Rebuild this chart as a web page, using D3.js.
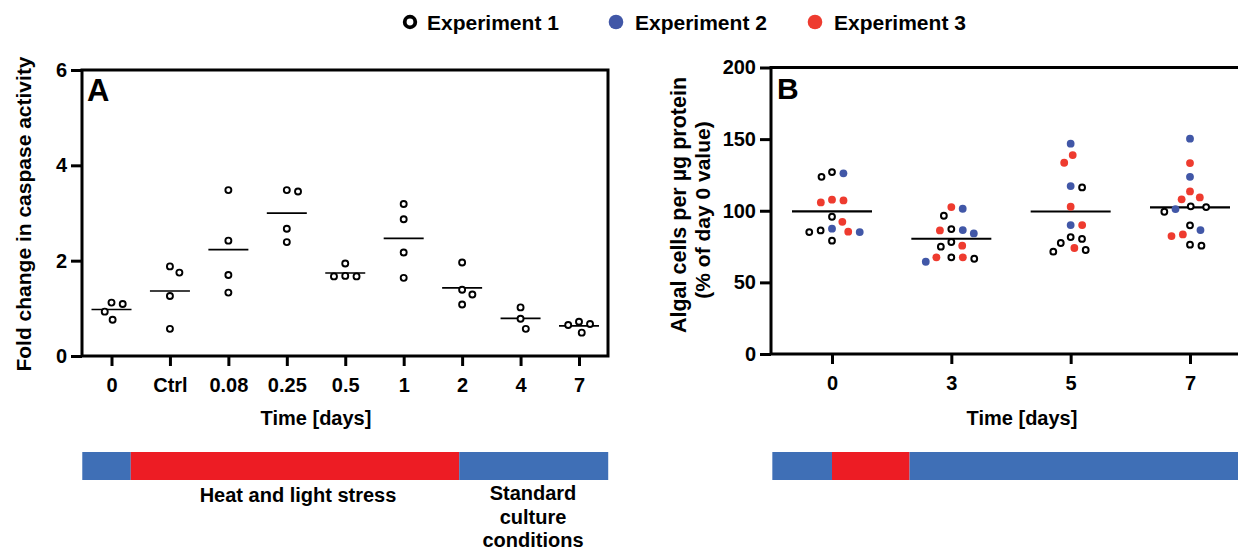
<!DOCTYPE html>
<html lang="en">
<head>
  <meta charset="UTF-8">
  <title>Caspase activity and algal cells</title>
  <style>
    body { margin: 0; background: #fff; }
    svg { display: block; font-family: 'Liberation Sans', Arial, sans-serif; font-weight: bold; }
  </style>
  <script src="https://d3js.org/d3.v7.min.js"></script>
</head>
<body>
<script>
  // Panel A: fold change in caspase activity, one array per time point
  const catsA = ["0", "Ctrl", "0.08", "0.25", "0.5", "1", "2", "4", "7"];
  const valuesA = [
    [1.12, 1.09, 0.93, 0.76],
    [1.75, 1.88, 1.26, 0.57],
    [3.48, 2.42, 1.70, 1.33],
    [3.45, 3.48, 2.67, 2.39],
    [1.94, 1.68, 1.67, 1.67],
    [3.19, 2.87, 2.17, 1.64],
    [1.96, 1.39, 1.29, 1.08],
    [1.02, 0.78, 0.57],
    [0.67, 0.65, 0.72, 0.49]
  ];
  const ticksA = [0, 2, 4, 6];

  // Panel B: algal cells per ug protein (% of day 0), per experiment
  const daysB = ["0", "3", "5", "7"];
  const exp1B = [
    [127.0, 123.7, 95.8, 86.3, 85.1, 79.1],
    [96.5, 87.2, 78.2, 74.9, 67.5, 66.5],
    [116.3, 81.6, 80.3, 77.5, 72.6, 71.4],
    [102.6, 103.1, 99.3, 89.8, 75.6, 76.3]
  ];
  const exp2B = [
    [126.1, 85.1, 87.5],
    [101.4, 86.5, 84.2, 64.4],
    [146.8, 117.2, 90.0],
    [150.3, 123.7, 101.2, 86.5]
  ];
  const exp3B = [
    [107.2, 105.8, 107.7, 92.3, 85.4],
    [102.6, 86.3, 75.6, 67.5, 67.5],
    [138.9, 133.5, 102.8, 90.0, 74.0],
    [133.3, 113.5, 109.3, 108.0, 82.3, 83.5]
  ];
  const ticksB = [0, 50, 100, 150, 200];

  const experiments = ["Experiment 1", "Experiment 2", "Experiment 3"];

  // condition bars under each panel, bounds in category-index units
  const phasesA = [
    { start: -0.5, end: 0.33, kind: "standard" },
    { start: 0.33, end: 5.95, kind: "stress" },
    { start: 5.95, end: 8.5, kind: "standard" }
  ];
  const phasesB = [
    { start: -0.5, end: 0, kind: "standard" },
    { start: 0, end: 0.65, kind: "stress" },
    { start: 0.65, end: 3.5, kind: "standard" }
  ];

  const blue = "#4157a7", red = "#ee3b2f";
  const barColor = { standard: "#3f6fb6", stress: "#ed1c24" };

  const W = 1238, H = 552;
  const svg = d3.select("body").append("svg")
    .attr("width", W)
    .attr("height", H);

  const fs = 20;     // tick labels
  const fsT = 21;    // axis titles

  // simple beeswarm: returns x offsets, keeps points D apart
  function swarm(ys, D) {
    const placed = [];
    const out = new Array(ys.length);
    const order = d3.range(ys.length).sort((a, b) => ys[a] - ys[b]);
    order.forEach(i => {
      const iv = placed
        .filter(p => Math.abs(p.y - ys[i]) < D)
        .map(p => {
          const w = Math.sqrt(D * D - (p.y - ys[i]) ** 2);
          return [p.x - w, p.x + w];
        });
      const cands = [0].concat(iv.flat());
      const ok = cands.filter(c => iv.every(([a, b]) => c <= a + 1e-6 || c >= b - 1e-6));
      ok.sort((a, b) => Math.abs(a) - Math.abs(b) || b - a);
      out[i] = ok[0];
      placed.push({ x: ok[0], y: ys[i] });
    });
    return out;
  }

  function styleAxis(g) {
    g.select(".domain").remove();
    g.selectAll(".tick line").attr("stroke", "#000").attr("stroke-width", 3);
    g.selectAll(".tick text").attr("fill", "#000").style("font-size", fs + "px").style("font-weight", "bold");
  }

  // ---------- Panel A ----------
  const xA = d3.scalePoint().domain(catsA).range([111.5, 579]);
  const yA = d3.scaleLinear().domain([0, 6]).range([356, 70]);
  const stepA = xA.step();
  const idxA = d3.scaleLinear().domain([0, 1]).range([xA(catsA[0]), xA(catsA[0]) + stepA]);

  svg.append("g")
    .attr("transform", "translate(82,0)")
    .call(d3.axisLeft(yA).tickValues(ticksA).tickFormat(d3.format("d"))
      .tickSize(11).tickPadding(4).tickSizeOuter(0))
    .call(styleAxis);

  svg.append("g")
    .attr("transform", "translate(0,356)")
    .call(d3.axisBottom(xA).tickSize(10).tickPadding(12).tickSizeOuter(0))
    .call(styleAxis);

  svg.append("rect")
    .attr("x", 82).attr("y", yA(6))
    .attr("width", 608 - 82).attr("height", yA(0) - yA(6))
    .attr("fill", "none").attr("stroke", "#000").attr("stroke-width", 3);

  const gA = svg.append("g");
  catsA.forEach((c, i) => {
    const vals = valuesA[i];
    const m = d3.mean(vals);
    gA.append("line")
      .attr("x1", xA(c) - 20).attr("x2", xA(c) + 20)
      .attr("y1", yA(m)).attr("y2", yA(m))
      .attr("stroke", "#000").attr("stroke-width", 1.6);
    const ys = vals.map(v => yA(v));
    const dx = swarm(ys, 11.3);
    gA.selectAll(null)
      .data(vals)
      .join("circle")
      .attr("cx", (d, j) => xA(c) + dx[j])
      .attr("cy", d => yA(d))
      .attr("r", 3)
      .attr("fill", "#fff")
      .attr("stroke", "#000")
      .attr("stroke-width", 1.9);
  });

  svg.append("text")
    .attr("x", 87).attr("y", 100.5)
    .style("font-size", "31px")
    .text("A");

  svg.append("text")
    .attr("transform", "translate(31,214) rotate(-90)")
    .attr("text-anchor", "middle")
    .style("font-size", fsT + "px")
    .text("Fold change in caspase activity");

  svg.append("text")
    .attr("x", 316).attr("y", 425)
    .attr("text-anchor", "middle")
    .style("font-size", fs + "px")
    .text("Time [days]");

  // ---------- Panel B ----------
  const xB = d3.scalePoint().domain(daysB).range([832, 1190]);
  const yB = d3.scaleLinear().domain([0, 200]).range([354, 67.5]);
  const stepB = xB.step();
  const idxB = d3.scaleLinear().domain([0, 1]).range([xB(daysB[0]), xB(daysB[0]) + stepB]);

  svg.append("g")
    .attr("transform", "translate(771,0)")
    .call(d3.axisLeft(yB).tickValues(ticksB).tickSize(11).tickPadding(4).tickSizeOuter(0))
    .call(styleAxis);

  svg.append("g")
    .attr("transform", "translate(0,354)")
    .call(d3.axisBottom(xB).tickSize(10).tickPadding(12).tickSizeOuter(0))
    .call(styleAxis);

  svg.append("path")
    .attr("d", `M${W},${yB(200)}H771V${yB(0)}H${W}`)
    .attr("fill", "none").attr("stroke", "#000").attr("stroke-width", 3);

  const gB = svg.append("g");
  daysB.forEach((d, i) => {
    const pts = [].concat(
      exp1B[i].map(v => ({ v, e: 0 })),
      exp2B[i].map(v => ({ v, e: 1 })),
      exp3B[i].map(v => ({ v, e: 2 }))
    );
    const m = d3.mean(pts, p => p.v);
    gB.append("line")
      .attr("x1", xB(d) - 40).attr("x2", xB(d) + 40)
      .attr("y1", yB(m)).attr("y2", yB(m))
      .attr("stroke", "#000").attr("stroke-width", 2.2);
    const dx = swarm(pts.map(p => yB(p.v)), 11.5);
    gB.selectAll(null)
      .data(pts)
      .join("circle")
      .attr("cx", (p, j) => xB(d) + dx[j])
      .attr("cy", p => yB(p.v))
      .attr("r", p => p.e === 0 ? 2.9 : 3.9)
      .attr("fill", p => p.e === 0 ? "#fff" : p.e === 1 ? blue : red)
      .attr("stroke", p => p.e === 0 ? "#000" : "none")
      .attr("stroke-width", 2);
  });

  svg.append("text")
    .attr("x", 777).attr("y", 98.5)
    .style("font-size", "30px")
    .text("B");

  svg.append("text")
    .attr("transform", "translate(686,205) rotate(-90)")
    .attr("text-anchor", "middle")
    .style("font-size", (fsT + 0.5) + "px")
    .text("Algal cells per µg protein");

  svg.append("text")
    .attr("transform", "translate(710,210) rotate(-90)")
    .attr("text-anchor", "middle")
    .style("font-size", fsT + "px")
    .text("(% of day 0 value)");

  svg.append("text")
    .attr("x", 1022).attr("y", 425)
    .attr("text-anchor", "middle")
    .style("font-size", fs + "px")
    .text("Time [days]");

  // ---------- condition bars ----------
  svg.append("g").selectAll("rect")
    .data(phasesA)
    .join("rect")
    .attr("x", p => idxA(p.start))
    .attr("width", p => idxA(p.end) - idxA(p.start))
    .attr("y", 452).attr("height", 28)
    .attr("fill", p => barColor[p.kind]);

  svg.append("g").selectAll("rect")
    .data(phasesB)
    .join("rect")
    .attr("x", p => idxB(p.start))
    .attr("width", p => Math.min(W, idxB(p.end)) - idxB(p.start))
    .attr("y", 452).attr("height", 28)
    .attr("fill", p => barColor[p.kind]);

  svg.append("text")
    .attr("x", 298).attr("y", 502)
    .attr("text-anchor", "middle")
    .style("font-size", fs + "px")
    .text("Heat and light stress");

  svg.append("text")
    .attr("text-anchor", "middle")
    .style("font-size", fs + "px")
    .selectAll("tspan")
    .data(["Standard", "culture", "conditions"])
    .join("tspan")
    .attr("x", 533)
    .attr("y", (d, i) => 500 + i * 23.5)
    .text(d => d);

  // ---------- legend ----------
  const legX = [410, 616, 815];
  const leg = svg.append("g").selectAll("g")
    .data(experiments)
    .join("g")
    .attr("transform", (d, i) => `translate(${legX[i]},22)`);
  leg.append("circle")
    .attr("r", (d, i) => i === 0 ? 5.3 : 7.3)
    .attr("fill", (d, i) => i === 0 ? "#fff" : i === 1 ? blue : red)
    .attr("stroke", (d, i) => i === 0 ? "#000" : "none")
    .attr("stroke-width", 3.8);
  leg.append("text")
    .attr("x", (d, i) => i === 0 ? 17 : 19)
    .attr("y", 7.5)
    .style("font-size", "21px")
    .text(d => d);
</script>
</body>
</html>
